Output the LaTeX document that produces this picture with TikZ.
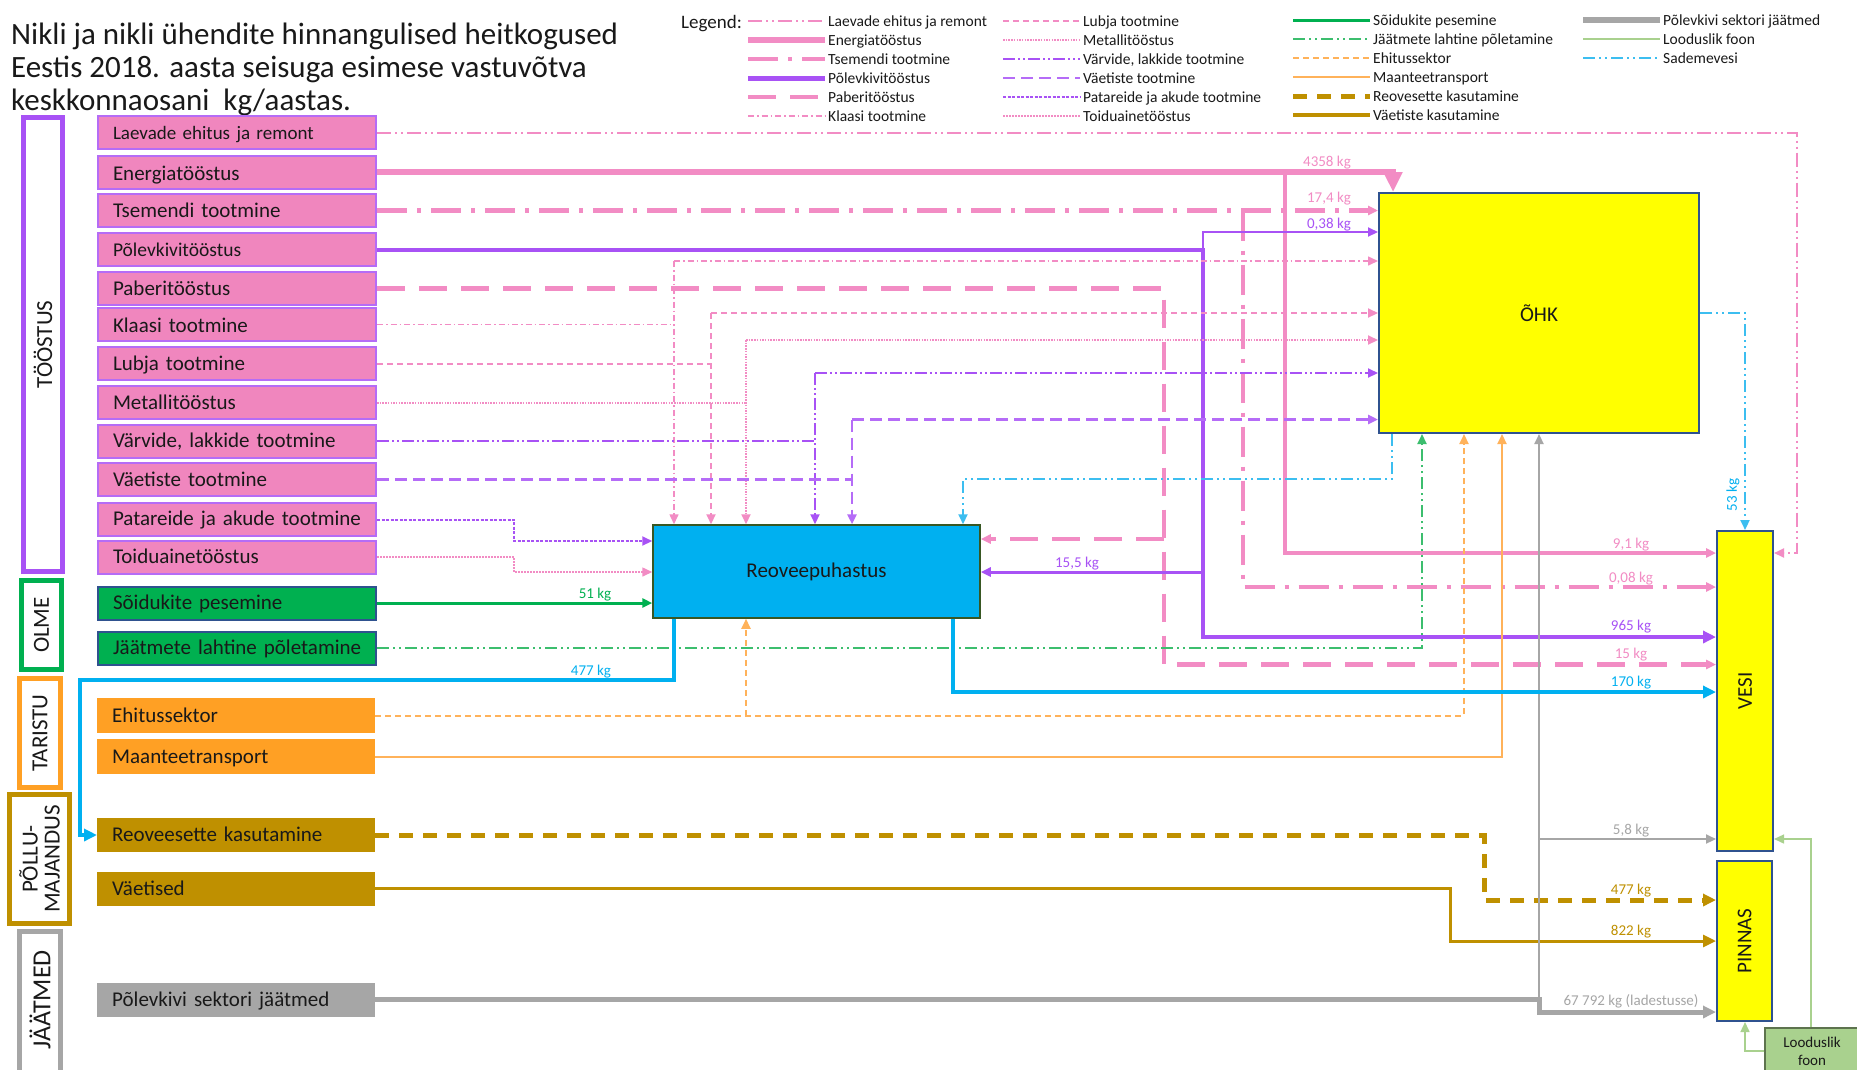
\documentclass[tikz,border=0pt]{standalone}
\usepackage{fontspec}
\setmainfont{Carlito}
\usetikzlibrary{arrows.meta}

\newcommand\fsz[1]{\fontsize{#1}{#1}\selectfont}
\newcommand\fszb[2]{\fontsize{#1}{#2}\selectfont}

\definecolor{pk}{RGB}{240,134,190}
\definecolor{pkline}{RGB}{242,140,196}
\definecolor{pu}{RGB}{168,82,245}
\definecolor{gr}{RGB}{0,176,80}
\definecolor{grl}{RGB}{60,190,110}
\definecolor{navy}{RGB}{47,82,143}
\definecolor{orb}{RGB}{255,160,36}
\definecolor{orl}{RGB}{255,178,90}
\definecolor{gold}{RGB}{191,144,0}
\definecolor{gy}{RGB}{166,166,166}
\definecolor{bl}{RGB}{0,176,240}
\definecolor{sade}{RGB}{60,190,240}
\definecolor{yl}{RGB}{255,255,0}
\definecolor{lgreen}{RGB}{169,209,142}
\definecolor{reoborder}{RGB}{56,87,35}
\definecolor{ink}{RGB}{25,25,25}

\tikzset{
  ah/.style={-{Triangle[length=10pt,width=9pt]}},
  ahm/.style={-{Triangle[length=13pt,width=12pt]}},
  ahb/.style={-{Triangle[length=20pt,width=18pt]}},
  srcbox/.style={anchor=west, minimum width=278pt, minimum height=33pt,
    text width=248pt, inner xsep=15pt, inner ysep=0pt, align=left,
    text height=13pt, text depth=0pt, font=\fsz{21}, text=ink},
  pbox/.style={srcbox, draw=pu!85, line width=2pt, fill=pk},
  gbox/.style={srcbox, draw=navy, line width=2pt, fill=gr},
  obox/.style={srcbox, fill=orb},
  abox/.style={srcbox, fill=gold},
  xbox/.style={srcbox, fill=gy},
  grpframe/.style={line width=5pt, fill=white, inner sep=0pt},
  grptext/.style={rotate=90, font=\fsz{23}, text=ink, align=center, inner sep=0pt},
  lbl/.style={anchor=base, font=\fsz{15}, inner sep=0pt},
  legt/.style={anchor=base west, font=\fsz{15.5}, inner sep=0pt, text=ink},
  % flow line styles
  fLae/.style={pkline, line width=2pt, dash pattern=on 14pt off 4pt on 2pt off 4pt on 2pt off 4pt},
  fEne/.style={pkline, line width=5.5pt},
  fEneThin/.style={pkline, line width=3.5pt},
  fTse/.style={pkline, line width=4.5pt, dash pattern=on 30pt off 10pt on 4pt off 10pt},
  fPol/.style={pu, line width=4pt},
  fPolMid/.style={pu, line width=3pt},
  fPolThin/.style={pu, line width=2pt},
  fPab/.style={pkline, line width=4.5pt, dash pattern=on 28pt off 14pt},
  fKla/.style={pkline, line width=1.5pt, dash pattern=on 6pt off 3pt on 1.5pt off 3pt},
  fLub/.style={pkline, line width=2pt, dash pattern=on 6pt off 4pt},
  fMet/.style={pkline, line width=2pt, dash pattern=on 1.5pt off 1.2pt},
  fVar/.style={pu, line width=2pt, dash pattern=on 12pt off 3pt on 2pt off 3pt on 2pt off 3pt},
  fVae/.style={pu!85, line width=2.5pt, dash pattern=on 12pt off 6pt},
  fPat/.style={pu, line width=2pt, dash pattern=on 3pt off 1.5pt},
  fToi/.style={pkline, line width=1.5pt, dash pattern=on 1.5pt off 1.5pt},
  fSoi/.style={gr, line width=3pt},
  fJaa/.style={grl, line width=2pt, dash pattern=on 12pt off 4pt on 2pt off 4pt on 2pt off 4pt},
  fEhi/.style={orl, line width=2pt, dash pattern=on 6pt off 4pt},
  fMaa/.style={orl, line width=2pt},
  fRvs/.style={gold, line width=5pt, dash pattern=on 14pt off 10pt},
  fVt/.style={gold, line width=3pt},
  fGy/.style={gy, line width=5pt},
  fGyThin/.style={gy, line width=2pt},
  fLf/.style={lgreen, line width=1.5pt},
  fSad/.style={sade, line width=2pt, dash pattern=on 12pt off 4pt on 2pt off 4pt on 2pt off 4pt},
  fBlue/.style={bl, line width=3.5pt},
}

% legend entry: name, line style, x of text, y of row centre, text
\newcommand\legitem[5]{%
  \node[legt] (#1) at (#3,#4+5) {#5};
  \draw[#2] ([xshift=-80pt,yshift=5pt]#1.base west) -- ([xshift=-3pt,yshift=5pt]#1.base west);}

\begin{document}
\begin{tikzpicture}[x=1pt,y=-1pt]
\clip (0,0) rectangle (1857,1069);
\fill[white] (0,0) rectangle (1857,1069);

% ---------- title ----------
\node[anchor=base west, font=\fsz{31}, inner sep=0pt, text=ink] (t1) at (11,44) {Nikli ja nikli ühendite hinnangulised heitkogused};
\node[anchor=base west, font=\fsz{31}, inner sep=0pt, text=ink] (t2) at (11,77) {Eestis 2018. aasta seisuga esimese vastuvõtva};
\node[anchor=base west, font=\fsz{31}, inner sep=0pt, text=ink] (t3) at (11,110) {keskkonnaosani~ kg/aastas.};

% ---------- legend ----------
\node[anchor=base west, font=\fsz{19}, inner sep=0pt, text=ink] (legend) at (681,28) {Legend:};
\legitem{lgA}{fLae}{828}{21}{Laevade ehitus ja remont}
\legitem{lgB}{fEne}{828}{40}{Energiatööstus}
\legitem{lgC}{fTse}{828}{59}{Tsemendi tootmine}
\legitem{lgD}{fPol,line width=5pt}{828}{78}{Põlevkivitööstus}
\legitem{lgE}{fPab}{828}{97}{Paberitööstus}
\legitem{lgF}{fKla}{828}{116}{Klaasi tootmine}
\legitem{lgG}{fLub}{1083}{21}{Lubja tootmine}
\legitem{lgH}{fMet}{1083}{40}{Metallitööstus}
\legitem{lgI}{fVar}{1083}{59}{Värvide, lakkide tootmine}
\legitem{lgJ}{fVae}{1083}{78}{Väetiste tootmine}
\legitem{lgK}{fPat}{1083}{97}{Patareide ja akude tootmine}
\legitem{lgL}{fToi}{1083}{116}{Toiduainetööstus}
\legitem{lgM}{fSoi}{1373}{20}{Sõidukite pesemine}
\legitem{lgN}{fJaa}{1373}{39}{Jäätmete lahtine põletamine}
\legitem{lgO}{fEhi}{1373}{58}{Ehitussektor}
\legitem{lgP}{fMaa}{1373}{77}{Maanteetransport}
\legitem{lgQ}{fRvs}{1373}{96}{Reovesette kasutamine}
\legitem{lgR}{fVt,line width=4pt}{1373}{115}{Väetiste kasutamine}
\legitem{lgS}{fGy,line width=6pt}{1663}{20}{Põlevkivi sektori jäätmed}
\legitem{lgT}{fLf}{1663}{39}{Looduslik foon}
\legitem{lgU}{fSad}{1663}{58}{Sademevesi}

% ---------- sector frames ----------
\node[grpframe, draw=pu, minimum width=39pt, minimum height=454pt] (gTo) at (43,344.5) {};
\node[grptext] (gToL) at (gTo.center) {TÖÖSTUS};
\node[grpframe, draw=gr, minimum width=40pt, minimum height=89pt] (gOl) at (41.5,625) {};
\node[grptext] (gOlL) at (gOl.center) {OLME};
\node[grpframe, draw=orb, minimum width=41pt, minimum height=109pt] (gTa) at (40,733) {};
\node[grptext] (gTaL) at (gTa.center) {TARISTU};
\node[grpframe, draw=gold, minimum width=60pt, minimum height=129pt] (gPo) at (39.5,859) {};
\node[grptext, font=\fszb{23}{22}] (gPoL) at (gPo.center) {PÕLLU-\\MAJANDUS};
\node[grpframe, draw=gy, minimum width=41pt, minimum height=160pt] (gJa) at (40,1011.5) {};
\node[grptext, font=\fsz{26}] (gJaL) at (40,1000) {JÄÄTMED};

% ---------- sources ----------
\node[pbox, font=\fsz{19}] (lae) at (97,132.5) {Laevade ehitus ja remont};
\node[pbox, text height=17pt] (ene) at (97,172) {Energiatööstus};
\node[pbox] (tse) at (97,210.5) {Tsemendi tootmine};
\node[pbox, font=\fsz{19.5}] (pol) at (97,249.5) {Põlevkivitööstus};
\node[pbox] (pab) at (97,288.5) {Paberitööstus};
\node[pbox, text height=15pt] (kla) at (97,324.5) {Klaasi tootmine};
\node[pbox] (lub) at (97,363.5) {Lubja tootmine};
\node[pbox] (met) at (97,402.5) {Metallitööstus};
\node[pbox] (var) at (97,441) {Värvide, lakkide tootmine};
\node[pbox] (vae) at (97,479.5) {Väetiste tootmine};
\node[pbox, text height=11pt] (pat) at (97,519.5) {Patareide ja akude tootmine};
\node[pbox] (toi) at (97,557) {Toiduainetööstus};
\node[gbox] (soi) at (97,603) {Sõidukite pesemine};
\node[gbox] (jaa) at (97,648) {\mbox{Jäätmete lahtine põletamine}};
\node[obox, minimum height=35pt] (ehi) at (97,715.5) {Ehitussektor};
\node[obox, minimum height=35pt] (maa) at (97,756.5) {Maanteetransport};
\node[abox, minimum height=34pt] (rvs) at (97,835) {Reoveesette kasutamine};
\node[abox, minimum height=34pt] (vaet) at (97,888.5) {Väetised};
\node[xbox, minimum height=34pt] (pvj) at (97,999.5) {Põlevkivi sektori jäätmed};

% ---------- receivers ----------
\node[draw=reoborder, line width=1.5pt, fill=bl, minimum width=327pt, minimum height=93pt, font=\fsz{21}, text=ink, inner sep=0pt] (reo) at (816.5,571.5) {Reoveepuhastus};
\node[draw=navy, line width=2pt, fill=yl, minimum width=320pt, minimum height=240pt, font=\fsz{21}, text=ink, inner sep=0pt] (ohk) at (1539,313) {ÕHK};
\node[draw=navy, line width=2pt, fill=yl, minimum width=56pt, minimum height=320pt, inner sep=0pt] (vesi) at (1745,691) {};
\node[rotate=90, font=\fsz{21}, text=ink, inner sep=0pt] (vesiL) at (vesi.center) {VESI};
\node[draw=navy, line width=2pt, fill=yl, minimum width=55pt, minimum height=160pt, inner sep=0pt] (pinnas) at (1744.5,941) {};
\node[rotate=90, font=\fsz{21}, text=ink, inner sep=0pt] (pinnasL) at (pinnas.center) {PINNAS};
\node[draw=black!45!lgreen, line width=1.5pt, fill=lgreen, minimum width=94pt, minimum height=46pt, font=\fszb{15}{18}, align=center, text=ink, inner sep=0pt] (lf) at (1812,1051) {Looduslik\\foon};

% ---------- junctions ----------
\coordinate (cLae1) at (1797,132.5);
\coordinate (cLae2) at (1797,553);
\coordinate (cEne1) at (1393,172);
\coordinate (cEneJ) at (1285,172);
\coordinate (cEne2) at (1285,553);
\coordinate (cTseJ) at (1243,210.5);
\coordinate (cTse2) at (1243,587);
\coordinate (cPolJ) at (1203,249.5);
\coordinate (cPolU) at (1203,232);
\coordinate (cPolR) at (1203,572);
\coordinate (cPol2) at (1203,637);
\coordinate (cPab2) at (1164,664.5);
\coordinate (cPabR) at (1164,539);
\coordinate (cKla) at (674,261);
\coordinate (cLub) at (711,313);
\coordinate (cMet) at (746,340);
\coordinate (cVar) at (815,373);
\coordinate (cVae) at (852,419.5);
\coordinate (cPat) at (514,541);
\coordinate (cToi) at (514,572);
\coordinate (cJaa) at (1422,648);
\coordinate (cEhi) at (1464,715.5);
\coordinate (cEhiR) at (746,715.5);
\coordinate (cMaa) at (1502,756.5);
\coordinate (cRvs1) at (1484,835);
\coordinate (cRvs2) at (1484,900);
\coordinate (cVt1) at (1450,888.5);
\coordinate (cVt2) at (1450,941);
\coordinate (cG1) at (1539,999.5);
\coordinate (cG2) at (1539,1012);
\coordinate (cGV) at (1539,839);
\coordinate (cB1) at (674,680);
\coordinate (cB2) at (80,680);
\coordinate (cB3) at (80,835);
\coordinate (cB4) at (953,692);
\coordinate (cS1) at (1392,479);
\coordinate (cS2) at (963,479);
\coordinate (cS3) at (1745,313);
\coordinate (cF1) at (1811,839);
\coordinate (cF2) at (1745,1051);

% ---------- flows ----------
\draw[fLae,ah] (lae.east) -- (cLae1) -- (cLae2) -- (cLae2 -| vesi.east);
\draw[fEneThin,ah] (cEneJ) -- (cEne2) -- (cEne2 -| vesi.west);
\draw[fEne,ahb] (ene.east) -- (cEne1) -- (cEne1 |- ohk.north);
\draw[fTse,ah] (tse.east) -- (tse.east -| ohk.west);
\draw[fTse,ah] (cTseJ) -- (cTse2) -- (cTse2 -| vesi.west);
\draw[fPab,ah] (pab.east) -| (cPab2) -- (cPab2 -| vesi.west);
\draw[fPab,ah] (cPabR) -- (cPabR -| reo.east);
\draw[fPolThin,ah] (cPolJ) -- (cPolU) -- (cPolU -| ohk.west);
\draw[fPolMid,ah] (cPolR) -- (cPolR -| reo.east);
\draw[fPol,ahm] (pol.east) -- (cPolJ) -- (cPol2) -- (cPol2 -| vesi.west);

\draw[fKla] (kla.east) -- (kla.east -| cKla);
\draw[fKla,ah] (cKla) -- (cKla |- reo.north);
\draw[fKla,ah] (cKla) -- (cKla -| ohk.west);
\draw[fLub] (lub.east) -- (lub.east -| cLub);
\draw[fLub,ah] (cLub) -- (cLub |- reo.north);
\draw[fLub,ah] (cLub) -- (cLub -| ohk.west);
\draw[fMet] (met.east) -- (met.east -| cMet);
\draw[fMet,ah] (cMet) -- (cMet |- reo.north);
\draw[fMet,ah] (cMet) -- (cMet -| ohk.west);
\draw[fVar] (var.east) -- (var.east -| cVar);
\draw[fVar,ah] (cVar) -- (cVar |- reo.north);
\draw[fVar,ah] (cVar) -- (cVar -| ohk.west);
\draw[fVae] (vae.east) -- (vae.east -| cVae);
\draw[fVae,ah] (cVae) -- (cVae |- reo.north);
\draw[fVae,ah] (cVae) -- (cVae -| ohk.west);
\draw[fPat,ah] (pat.east) -| (cPat) -- (cPat -| reo.west);
\draw[fToi,ah] (toi.east) -| (cToi) -- (cToi -| reo.west);

\draw[fSoi,ah] (soi.east) -- (soi.east -| reo.west);
\draw[fJaa,ah] (jaa.east) -- (cJaa) -- (cJaa |- ohk.south);
\draw[fEhi,ah] (ehi.east) -- (cEhi) -- (cEhi |- ohk.south);
\draw[fEhi,ah] (cEhiR) -- (cEhiR |- reo.south);
\draw[fMaa,ah] (maa.east) -- (cMaa) -- (cMaa |- ohk.south);

\draw[fRvs,ahm] (rvs.east) -- (cRvs1) -- (cRvs2) -- (cRvs2 -| pinnas.west);
\draw[fVt,ahm] (vaet.east) -- (cVt1) -- (cVt2) -- (cVt2 -| pinnas.west);
\draw[fGyThin,ah] (cG1) -- (cG1 |- ohk.south);
\draw[fGyThin,ah] (cGV) -- (cGV -| vesi.west);
\draw[fGy,ahm] (pvj.east) -- (cG1) -- (cG2) -- (cG2 -| pinnas.west);

\draw[fBlue,ahm] (reo.south -| cB1) -- (cB1) -- (cB2) -- (cB3) -- (rvs.west);
\draw[fBlue,ahm] (reo.south -| cB4) -- (cB4) -- (cB4 -| vesi.west);
\draw[fSad,ah] (ohk.south -| cS1) -- (cS1) -- (cS2) -- (cS2 |- reo.north);
\draw[fSad,ah] (ohk.east) -- (cS3) -- (vesi.north);

\draw[fLf,ah] (lf.north -| cF1) -- (cF1) -- (cF1 -| vesi.east);
\draw[fLf,ah] (lf.west) -- (cF2) -- (cF2 |- pinnas.south);

% ---------- amounts ----------
\node[lbl, text=pkline] (a4358) at (1327,166) {4358 kg};
\node[lbl, text=pkline] (a174) at (1329,202) {17,4 kg};
\node[lbl, text=pu] (a038) at (1329,228) {0,38 kg};
\node[lbl, text=pkline] (a91) at (1631,548) {9,1 kg};
\node[lbl, text=pkline] (a008) at (1631,582) {0,08 kg};
\node[lbl, text=pu] (a965) at (1631,630) {965 kg};
\node[lbl, text=pkline] (a15) at (1631,658) {15 kg};
\node[lbl, text=bl] (a170) at (1631,686) {170 kg};
\node[lbl, text=gy] (a58) at (1631,834) {5,8 kg};
\node[lbl, text=gold] (a477p) at (1631,894) {477 kg};
\node[lbl, text=gold] (a822) at (1631,935) {822 kg};
\node[lbl, text=gy] (a67792) at (1631,1005) {67 792 kg (ladestusse)};
\node[lbl, text=gr] (a51) at (595,598) {51 kg};
\node[lbl, text=bl] (a477b) at (591,675) {477 kg};
\node[lbl, text=pu] (a155) at (1077,567) {15,5 kg};
\node[font=\fsz{15}, text=bl, rotate=90, inner sep=0pt] (a53) at (1733,495) {53 kg};

\end{tikzpicture}
\end{document}
